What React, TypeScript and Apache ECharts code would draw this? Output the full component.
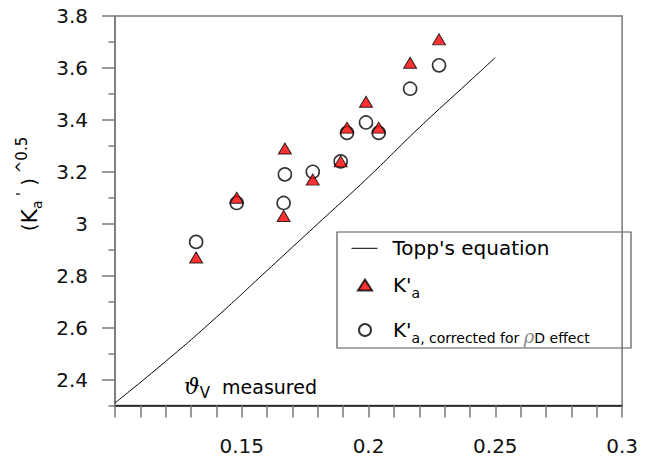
import React, { useEffect, useRef } from "react";
import * as echarts from "echarts";

const FONT = "'DejaVu Sans', sans-serif";

// axis ticks / labels
const xTickLabels = [0.15, 0.2, 0.25, 0.3];
const yTickLabels = [2.4, 2.6, 2.8, 3, 3.2, 3.4, 3.6, 3.8];
const yMinorTicks = [2.3, 2.5, 2.7, 2.9, 3.1, 3.3, 3.5, 3.7];

// Topp's equation curve
const toppTheta = [0.1, 0.12, 0.14, 0.16, 0.18, 0.2, 0.22, 0.24, 0.25];
const toppSqrtKa = [2.31, 2.47, 2.64, 2.82, 3.0, 3.18, 3.37, 3.55, 3.64];

// measured points
const measuredTheta = [0.132, 0.148, 0.167, 0.1665, 0.178, 0.189, 0.1915, 0.199, 0.204, 0.2164, 0.2278];
const kaSqrt = [2.87, 3.1, 3.29, 3.03, 3.17, 3.24, 3.37, 3.47, 3.37, 3.62, 3.71];
const kaCorrectedSqrt = [2.93, 3.08, 3.19, 3.08, 3.2, 3.24, 3.35, 3.39, 3.35, 3.52, 3.61];

const NAME_TOPP = "Topp's equation";
const NAME_KA = "K'a";
const NAME_KAC = "K'a, corrected for ρD effect";

const zip = (xs: number[], ys: number[]) => xs.map((x, i) => [x, ys[i]]);

export default function App() {
  const ref = useRef<HTMLDivElement>(null);
  useEffect(() => {
    if (!ref.current) return;
    const chart = echarts.init(ref.current, undefined, { renderer: "svg" });
    const baseText = { fontFamily: FONT, fontSize: 20, color: "#000", lineHeight: 30 };
    const legendBase = {
      orient: "vertical" as const,
      padding: 0,
      selectedMode: false,
    };
    chart.setOption({
      animation: false,
      backgroundColor: "#fff",
      grid: {
        show: true,
        left: 115,
        right: 6,
        top: 16,
        bottom: 54.5,
        borderColor: "#777",
        borderWidth: 1.5,
      },
      xAxis: {
        type: "value",
        min: 0.1,
        max: 0.3,
        interval: 0.01,
        axisLine: { lineStyle: { color: "#111", width: 1.5 } },
        axisTick: { length: 12, lineStyle: { color: "#777", width: 1.5 } },
        axisLabel: {
          customValues: xTickLabels,
          margin: 30,
          fontFamily: FONT,
          fontSize: 20,
          color: "#111",
        },
        splitLine: { show: false },
      },
      yAxis: [
        {
          type: "value",
          position: "left",
          min: 2.3,
          max: 3.8,
          axisLine: { show: true, lineStyle: { color: "#777", width: 1.5 } },
          axisTick: { customValues: yTickLabels, length: 13, lineStyle: { color: "#777", width: 1.5 } },
          axisLabel: {
            customValues: yTickLabels,
            margin: 27,
            fontFamily: FONT,
            fontSize: 20,
            color: "#111",
          },
          splitLine: { show: false },
        },
        {
          type: "value",
          position: "left",
          offset: 0,
          min: 2.3,
          max: 3.8,
          axisLine: { show: false },
          axisTick: { customValues: yMinorTicks, length: 6.5, lineStyle: { color: "#777", width: 1.5 } },
          axisLabel: { show: false },
          splitLine: { show: false },
        },
      ],
      legend: [
        {
          ...legendBase,
          left: 351,
          top: 233.3,
          itemWidth: 26,
          itemHeight: 14,
          data: [NAME_TOPP],
          itemStyle: { opacity: 0 },
          lineStyle: { color: "#000", width: 1, opacity: 1 },
          textStyle: { ...baseText, padding: [0, 0, 0, 10] },
        },
        {
          ...legendBase,
          left: 357,
          top: 270,
          itemWidth: 14,
          itemHeight: 11,
          data: [{ name: NAME_KA, icon: "triangle" }],
          formatter: () => "{n|K'}{s|a}",
          textStyle: {
            ...baseText,
            padding: [0, 0, 0, 16],
            rich: {
              n: { fontFamily: FONT, fontSize: 20, lineHeight: 30, color: "#000" },
              s: { fontFamily: FONT, fontSize: 14, lineHeight: 14, verticalAlign: "bottom", color: "#000" },
            },
          },
        },
        {
          ...legendBase,
          left: 358,
          top: 315,
          itemWidth: 12,
          itemHeight: 12,
          data: [{ name: NAME_KAC, icon: "circle" }],
          formatter: () => "{n|K'}{s|a, corrected for }{g|ρ}{d|D}{e| effect}",
          textStyle: {
            ...baseText,
            padding: [0, 0, 0, 17],
            rich: {
              n: { fontFamily: FONT, fontSize: 20, lineHeight: 30, color: "#000" },
              s: { fontFamily: FONT, fontSize: 14, lineHeight: 26, verticalAlign: "bottom", color: "#000" },
              g: { fontFamily: "'DejaVu Serif', serif", fontStyle: "italic", fontSize: 18, lineHeight: 26, verticalAlign: "bottom", color: "#888" },
              d: { fontFamily: FONT, fontSize: 14, lineHeight: 4, verticalAlign: "bottom", color: "#000" },
              e: { fontFamily: FONT, fontSize: 14, lineHeight: 28, verticalAlign: "bottom", color: "#000" },
            },
          },
        },
      ],
      graphic: [
        {
          type: "rect",
          silent: true,
          z: -1,
          shape: { x: 337, y: 232, width: 294, height: 116 },
          style: { fill: "#fff", stroke: "#555", lineWidth: 1.2 },
        },
        {
          type: "text",
          x: 29,
          y: 184,
          rotation: Math.PI / 2,
          style: {
            text: "{p|(}{k|K}{a|a}{q| '}{p| )}{sup| ^0.5}",
            align: "center",
            verticalAlign: "middle",
            rich: {
              p: { fontFamily: FONT, fontSize: 20, lineHeight: 30, color: "#aaa" },
              k: { fontFamily: FONT, fontSize: 22, lineHeight: 30, color: "#000" },
              a: { fontFamily: FONT, fontSize: 14, lineHeight: 14, verticalAlign: "bottom", color: "#777" },
              q: { fontFamily: FONT, fontSize: 14, lineHeight: 16, verticalAlign: "top", color: "#999" },
              sup: { fontFamily: FONT, fontSize: 15, lineHeight: 16, verticalAlign: "top", color: "#444" },
            },
          },
        },
        {
          type: "text",
          x: 184,
          y: 386.7,
          style: {
            text: "{th|ϑ}{v|V}{m|  measured}",
            align: "left",
            verticalAlign: "middle",
            rich: {
              th: { fontFamily: "'DejaVu Serif', serif", fontStyle: "italic", fontSize: 22, lineHeight: 28, color: "#888" },
              v: { fontFamily: FONT, fontSize: 15, lineHeight: 10, verticalAlign: "bottom", color: "#000" },
              m: { fontFamily: FONT, fontSize: 19, lineHeight: 28, color: "#000" },
            },
          },
        },
      ],
      series: [
        {
          name: NAME_TOPP,
          type: "line",
          data: zip(toppTheta, toppSqrtKa),
          symbol: "none",
          smooth: true,
          lineStyle: { color: "#000", width: 1 },
          itemStyle: { color: "#000" },
          z: 2,
        },
        {
          name: NAME_KAC,
          type: "scatter",
          data: zip(measuredTheta, kaCorrectedSqrt),
          symbol: "circle",
          symbolSize: 13,
          itemStyle: { color: "#fff", borderColor: "#000", borderWidth: 1.6 },
          z: 3,
        },
        {
          name: NAME_KA,
          type: "scatter",
          data: zip(measuredTheta, kaSqrt),
          symbol: "triangle",
          symbolSize: [13, 11],
          itemStyle: { color: "#ff0000", borderColor: "#000", borderWidth: 1 },
          z: 4,
        },
      ],
    });
    return () => chart.dispose();
  }, []);
  return (
    <div
      ref={ref}
      style={{
        position: "fixed",
        left: 0,
        top: 0,
        width: 641,
        height: 460,
        overflow: "hidden",
        background: "#fff",
      }}
    />
  );
}
